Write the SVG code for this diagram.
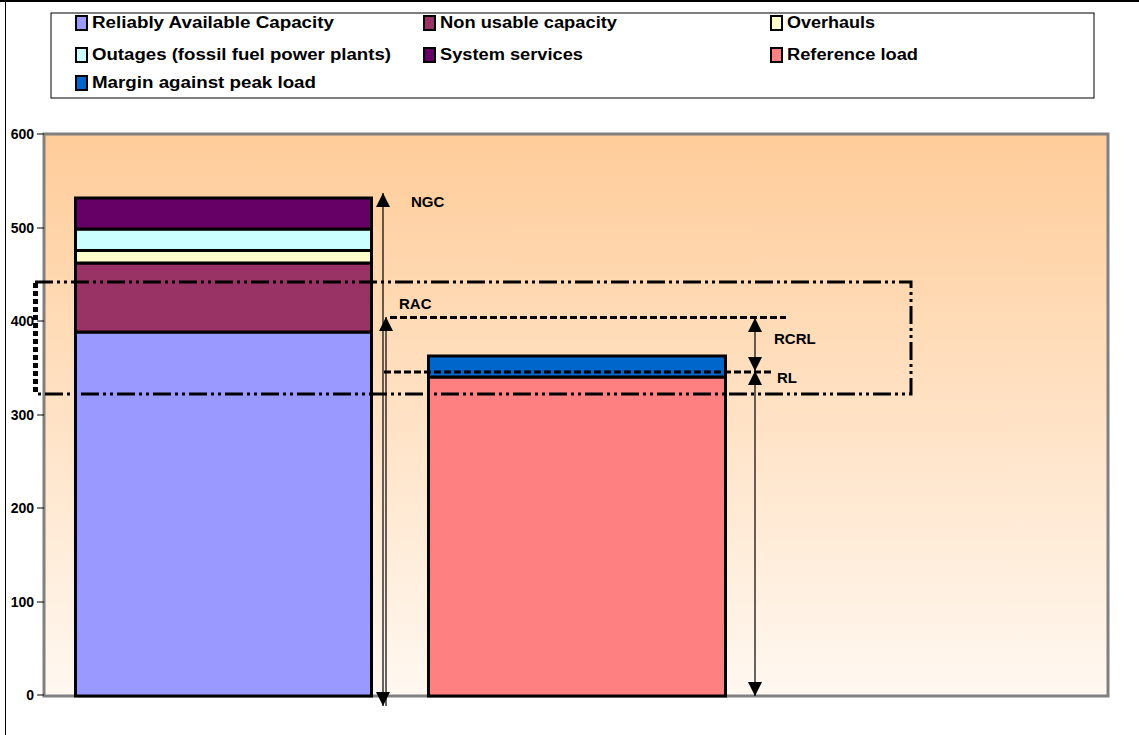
<svg xmlns="http://www.w3.org/2000/svg" width="1139" height="735" viewBox="0 0 1139 735">
<defs>
<linearGradient id="bg" x1="0" y1="0" x2="0" y2="1">
<stop offset="0" stop-color="#FFCC99"/>
<stop offset="1" stop-color="#FFF8F1"/>
</linearGradient>
<marker id="ah" viewBox="0 0 10 10" refX="10" refY="5" markerWidth="14" markerHeight="14" markerUnits="userSpaceOnUse" orient="auto-start-reverse">
<path d="M0,0 L10,5 L0,10 z" fill="#000"/>
</marker>
<style>
.lg{font-family:"Liberation Sans",Arial,sans-serif;font-weight:bold;font-size:16px;fill:#000}
.ax{font-family:"Liberation Sans",Arial,sans-serif;font-weight:bold;font-size:14px;fill:#000;text-anchor:end}
.lb{font-family:"Liberation Sans",Arial,sans-serif;font-weight:bold;font-size:15px;fill:#000}
.sw{stroke:#000;stroke-width:2}
.seg{stroke:#000;stroke-width:3}
.tk{stroke:#000;stroke-width:1}
.arr{stroke:#000;stroke-width:1.2;fill:none}
.dash{stroke:#000;stroke-width:3;stroke-dasharray:7 3;fill:none}
.dd{stroke:#000;stroke-width:3;stroke-dasharray:18 4 3 4 3 4;fill:none}
</style>
</defs>
<rect x="0" y="0" width="1139" height="735" fill="#fff"/>
<line x1="0" y1="1" x2="1139" y2="1" stroke="#000" stroke-width="2"/>
<line x1="5.5" y1="0" x2="5.5" y2="735" stroke="#000" stroke-width="1"/>

<g id="legend">
<rect x="51" y="13" width="1043" height="85" fill="#fff" stroke="#000" stroke-width="1"/>
<g id="leg-rac"><rect x="76" y="16" width="11" height="14" fill="#9999FF" class="sw"/><text x="92" y="28" class="lg" textLength="242" lengthAdjust="spacingAndGlyphs">Reliably Available Capacity</text></g>
<g id="leg-nuc"><rect x="424" y="16" width="11" height="14" fill="#993366" class="sw"/><text x="440" y="28" class="lg" textLength="177" lengthAdjust="spacingAndGlyphs">Non usable capacity</text></g>
<g id="leg-ovh"><rect x="771" y="16" width="11" height="14" fill="#FFFFCC" class="sw"/><text x="787" y="28" class="lg" textLength="88" lengthAdjust="spacingAndGlyphs">Overhauls</text></g>
<g id="leg-out"><rect x="76" y="48" width="11" height="14" fill="#CCFFFF" class="sw"/><text x="92" y="60" class="lg" textLength="299" lengthAdjust="spacingAndGlyphs">Outages (fossil fuel power plants)</text></g>
<g id="leg-sys"><rect x="424" y="48" width="11" height="14" fill="#660066" class="sw"/><text x="440" y="60" class="lg" textLength="143" lengthAdjust="spacingAndGlyphs">System services</text></g>
<g id="leg-ref"><rect x="771" y="48" width="11" height="14" fill="#FF8080" class="sw"/><text x="787" y="60" class="lg" textLength="131" lengthAdjust="spacingAndGlyphs">Reference load</text></g>
<g id="leg-mar"><rect x="76" y="76" width="11" height="14" fill="#0066CC" class="sw"/><text x="92" y="88" class="lg" textLength="224" lengthAdjust="spacingAndGlyphs">Margin against peak load</text></g>
</g>

<g id="plot">
<rect x="44" y="134" width="1064" height="562" fill="url(#bg)" stroke="#808080" stroke-width="3"/>
<line x1="37" y1="134" x2="44" y2="134" class="tk"/>
<line x1="37" y1="228" x2="44" y2="228" class="tk"/>
<line x1="37" y1="321" x2="44" y2="321" class="tk"/>
<line x1="37" y1="415" x2="44" y2="415" class="tk"/>
<line x1="37" y1="508" x2="44" y2="508" class="tk"/>
<line x1="37" y1="602" x2="44" y2="602" class="tk"/>
<line x1="37" y1="695" x2="44" y2="695" class="tk"/>
<text x="34" y="139" class="ax">600</text>
<text x="34" y="233" class="ax">500</text>
<text x="34" y="326" class="ax">400</text>
<text x="34" y="420" class="ax">300</text>
<text x="34" y="513" class="ax">200</text>
<text x="34" y="607" class="ax">100</text>
<text x="34" y="700" class="ax">0</text>
</g>

<g id="bar1">
<rect x="75.5" y="332" width="296" height="364" fill="#9999FF" class="seg"/>
<rect x="75.5" y="263" width="296" height="69" fill="#993366" class="seg"/>
<rect x="75.5" y="250.5" width="296" height="12.5" fill="#FFFFCC" class="seg"/>
<rect x="75.5" y="229" width="296" height="21.5" fill="#CCFFFF" class="seg"/>
<rect x="75.5" y="198" width="296" height="31" fill="#660066" class="seg"/>
</g>

<g id="bar2">
<rect x="428.5" y="377" width="297" height="319" fill="#FF8080" class="seg"/>
<rect x="428.5" y="356" width="297" height="21" fill="#0066CC" class="seg"/>
</g>

<g id="connectors">
<line x1="383" y1="706" x2="383" y2="193" class="arr" marker-start="url(#ah)" marker-end="url(#ah)"/>
<line x1="386" y1="706" x2="386" y2="317" class="arr" marker-end="url(#ah)"/>
<line x1="755" y1="371" x2="755" y2="318" class="arr" marker-start="url(#ah)" marker-end="url(#ah)"/>
<line x1="755" y1="696" x2="755" y2="371" class="arr" marker-start="url(#ah)" marker-end="url(#ah)"/>
<line x1="390" y1="317.5" x2="786" y2="317.5" class="dash"/>
<line x1="384" y1="372" x2="773" y2="372" class="dash"/>
<path d="M35,282 H911 V394 H35" class="dd"/>
<line x1="35.5" y1="283" x2="35.5" y2="392" stroke="#000" stroke-width="5" stroke-dasharray="5 3"/>
</g>

<g id="labels">
<text x="411" y="207" class="lb">NGC</text>
<text x="399" y="309" class="lb">RAC</text>
<text x="774" y="344" class="lb">RCRL</text>
<text x="777" y="383" class="lb">RL</text>
</g>
</svg>
